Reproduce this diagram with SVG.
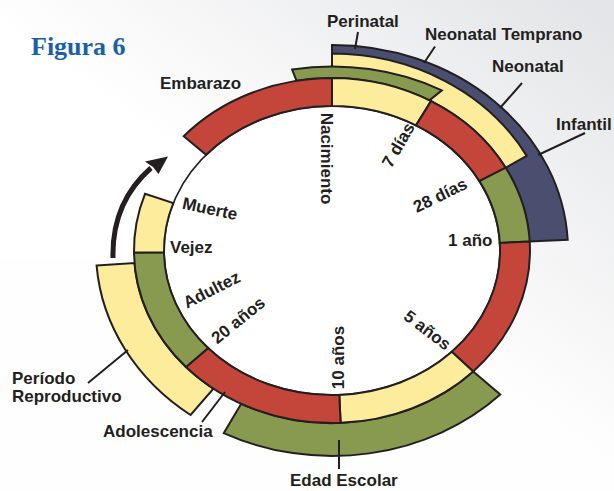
<svg xmlns="http://www.w3.org/2000/svg" width="614" height="491" viewBox="0 0 614 491">
  <defs>
    <linearGradient id="bgShade" x1="0.55" y1="0.55" x2="1" y2="0.05">
      <stop offset="0" stop-color="#ffffff"/>
      <stop offset="1" stop-color="#e1e2e5"/>
    </linearGradient>
    <style>
      .seg { stroke: #231f20; stroke-width: 2; stroke-linejoin: miter; }
      .red { fill: #c4463a; }
      .yellow { fill: #fcec9c; }
      .green { fill: #889a4f; }
      .navy { fill: #4b4f6f; }
      .lbl { font-family: "Liberation Sans", Arial, sans-serif; font-weight: bold; font-size: 17px; fill: #231f20; }
      .lead { stroke: #231f20; stroke-width: 2; fill: none; }
      .title { font-family: "Liberation Serif", "Times New Roman", serif; font-weight: bold; font-size: 26px; fill: #1b5fa9; }
    </style>
  </defs>

  <!-- page background -->
  <rect x="0" y="0" width="614" height="491" fill="#ffffff"/>
  <rect x="0" y="258" width="614" height="233" fill="#f6f6f6"/>
  <rect x="0" y="0" width="614" height="491" fill="url(#bgShade)" opacity="0.9"/>

  <text class="title" x="31" y="55">Figura 6</text>

  <!-- outer bands (drawn first, ring overlaps their inner edge) -->
  <g id="band-infantil">
    <path class="seg navy" d="M332,45 A236,205.5 0 0 1 567.7,239.8 L529.7,241.5 A198,172.5 0 0 0 332,78 Z"/>
  </g>
  <g id="band-neonatal">
    <path class="seg yellow" d="M332,53.5 A222,197 0 0 1 526.7,155.9 L505.7,167.7 A198,172.5 0 0 0 332,78 Z"/>
  </g>
  <g id="band-perinatal">
    <path class="seg green" d="M292.1,69.5 A223,184 0 0 1 441.8,90.4 L429.5,100.4 A198,172.5 0 0 0 296.6,80.8 Z"/>
  </g>
  <g id="band-reproductivo">
    <path class="seg yellow" d="M96.6,265.6 L134.5,263.1 A198,172.5 0 0 0 213.4,388.6 L190.6,415 A236,205.5 0 0 1 96.6,265.6 Z"/>
  </g>
  <g id="band-escolar">
    <path class="seg green" d="M473.2,371.4 L500.3,394.5 A236,205.5 0 0 1 223.8,433.1 L241.2,403.8 A198,172.5 0 0 0 473.2,371.4 Z"/>
  </g>

  <!-- inner life-cycle ring -->
  <g id="ring-centre">
    <ellipse cx="332" cy="250.5" rx="168" ry="144.5" fill="#ffffff" stroke="#231f20" stroke-width="1.6"/>
  </g>
  <g id="ring-embarazo">
    <path class="seg red" d="M183.7,136.2 A198,172.5 0 0 1 332,78 L332,106 A168,144.5 0 0 0 206.2,154.8 Z"/>
  </g>
  <g id="ring-7dias">
    <path class="seg yellow" d="M332,78 A198,172.5 0 0 1 431,101.1 L416,125.4 A168,144.5 0 0 0 332,106 Z"/>
  </g>
  <g id="ring-28dias">
    <path class="seg red" d="M431,101.1 A198,172.5 0 0 1 505.7,167.7 L479.4,181.1 A168,144.5 0 0 0 416,125.4 Z"/>
  </g>
  <g id="ring-1ano">
    <path class="seg green" d="M505.7,167.7 A198,172.5 0 0 1 529.7,241.5 L499.8,242.9 A168,144.5 0 0 0 479.4,181.1 Z"/>
  </g>
  <g id="ring-5anos">
    <path class="seg red" d="M529.7,241.5 A198,172.5 0 0 1 473.2,371.4 L451.8,351.8 A168,144.5 0 0 0 499.8,242.9 Z"/>
  </g>
  <g id="ring-10anos">
    <path class="seg yellow" d="M473.2,371.4 A198,172.5 0 0 1 340.6,422.8 L339.3,394.9 A168,144.5 0 0 0 451.8,351.8 Z"/>
  </g>
  <g id="ring-adolescencia">
    <path class="seg red" d="M340.6,422.8 A198,172.5 0 0 1 186,367 L208.1,348.1 A168,144.5 0 0 0 339.3,394.9 Z"/>
  </g>
  <g id="ring-adultez">
    <path class="seg green" d="M186,367 A198,172.5 0 0 1 134,252.6 L164,252.3 A168,144.5 0 0 0 208.1,348.1 Z"/>
  </g>
  <g id="ring-vejez">
    <path class="seg yellow" d="M134,252.6 A198,172.5 0 0 1 145,193.8 L173.3,203 A168,144.5 0 0 0 164,252.3 Z"/>
  </g>

  <!-- leader lines and direction arrow -->
  <g id="connectors">
    <line class="lead" x1="358" y1="32" x2="355" y2="49"/>
    <line class="lead" x1="435" y1="46.5" x2="424" y2="63"/>
    <line class="lead" x1="522" y1="83" x2="500" y2="108"/>
    <line class="lead" x1="585" y1="133" x2="538" y2="155"/>
    <line class="lead" x1="88" y1="383" x2="128" y2="350"/>
    <line class="lead" x1="202" y1="422" x2="225" y2="392"/>
    <line class="lead" x1="339" y1="440" x2="339" y2="469"/>
    <path d="M113,258 C112,218 127,189 151,168" stroke="#231f20" stroke-width="5" fill="none"/>
    <polygon points="168,156.5 145,161.5 153,167 158.5,174" fill="#231f20"/>
  </g>

  <!-- labels -->
  <g id="labels">
    <text class="lbl" x="160" y="89">Embarazo</text>
    <text class="lbl" x="327" y="27">Perinatal</text>
    <text class="lbl" x="425" y="39.5">Neonatal Temprano</text>
    <text class="lbl" x="492" y="72">Neonatal</text>
    <text class="lbl" x="556" y="130">Infantil</text>
    <text class="lbl" x="12" y="384">Período</text>
    <text class="lbl" x="12" y="402">Reproductivo</text>
    <text class="lbl" x="103" y="437">Adolescencia</text>
    <text class="lbl" x="290" y="486">Edad Escolar</text>

    <text class="lbl" text-anchor="middle" transform="translate(326.5,158.5) rotate(90)" y="6">Nacimiento</text>
    <text class="lbl" text-anchor="middle" transform="translate(398,145) rotate(-60)" y="6">7 días</text>
    <text class="lbl" text-anchor="middle" transform="translate(440,195) rotate(-26)" y="6">28 días</text>
    <text class="lbl" x="448" y="246">1 año</text>
    <text class="lbl" text-anchor="middle" transform="translate(427.5,330) rotate(37)" y="6">5 años</text>
    <text class="lbl" text-anchor="middle" transform="translate(337.5,357.5) rotate(-90)" y="6">10 años</text>
    <text class="lbl" text-anchor="middle" transform="translate(238,320) rotate(-39)" y="6">20 años</text>
    <text class="lbl" text-anchor="middle" transform="translate(211.5,289.5) rotate(-27)" y="6">Adultez</text>
    <text class="lbl" x="170" y="253">Vejez</text>
    <text class="lbl" text-anchor="middle" transform="translate(210,208.5) rotate(12)" y="6">Muerte</text>
  </g>
</svg>
